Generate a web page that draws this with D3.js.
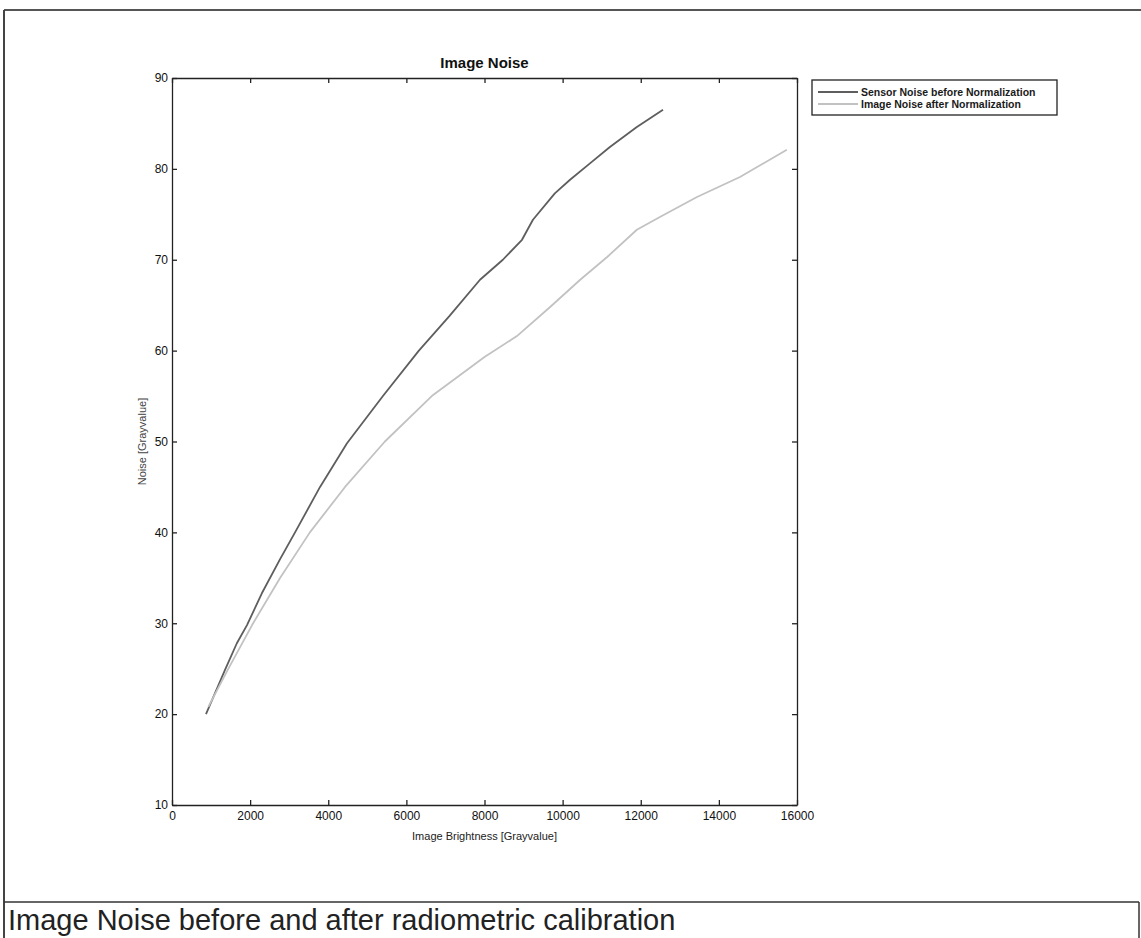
<!DOCTYPE html>
<html>
<head>
<meta charset="utf-8">
<script src="https://cdn.jsdelivr.net/npm/d3@7/dist/d3.min.js"></script>
<style>
  html, body { margin: 0; padding: 0; background: #fff; }
  svg { display: block; }
</style>
</head>
<body>
<svg id="chart" width="1141" height="938"></svg>
<script>
// ---- data ----
const beforeBrightness = [870, 1360, 1660, 1920, 2300, 2760, 3150, 3790, 4480, 5400, 6320, 7100, 7885, 8470, 8960, 9240, 9800, 10190, 10700, 11210, 11900, 12570];
const beforeNoise      = [20.0, 24.9, 27.8, 29.8, 33.3, 37.0, 40.0, 45.0, 49.8, 55.0, 60.0, 63.8, 67.8, 70.0, 72.2, 74.4, 77.3, 78.8, 80.6, 82.4, 84.6, 86.5];
const afterBrightness  = [930, 1430, 2050, 2770, 3530, 4430, 5450, 6650, 8000, 8830, 9680, 10450, 11140, 11900, 12490, 13440, 14540, 15740];
const afterNoise       = [20.8, 24.9, 29.8, 35.0, 40.0, 45.0, 50.0, 55.0, 59.3, 61.6, 64.8, 67.8, 70.3, 73.3, 74.7, 76.9, 79.1, 82.1];
const xTicks = [0, 2000, 4000, 6000, 8000, 10000, 12000, 14000, 16000];
const yTicks = [10, 20, 30, 40, 50, 60, 70, 80, 90];
const seriesNames = ["Sensor Noise before Normalization", "Image Noise after Normalization"];
const chartTitle = "Image Noise";
const xLabel = "Image Brightness [Grayvalue]";
const yLabel = "Noise [Grayvalue]";
const caption = "Image Noise before and after radiometric calibration";

// ---- layout ----
const svg = d3.select("#chart");
const L = 172, R = 797, T = 78, B = 805;
const x = d3.scaleLinear().domain([0, 16000]).range([L, R]);
const y = d3.scaleLinear().domain([10, 90]).range([B, T]);
const colors = ["#5e5e5e", "#c2c2c2"];
const tickFont = "'Liberation Sans', Arial, sans-serif";

// outer frame
svg.append("line").attr("x1", 4).attr("x2", 1141).attr("y1", 10).attr("y2", 10).attr("stroke", "#555").attr("stroke-width", 2);
svg.append("line").attr("x1", 4).attr("x2", 4).attr("y1", 10).attr("y2", 938).attr("stroke", "#444").attr("stroke-width", 2);
svg.append("line").attr("x1", 4).attr("x2", 1139).attr("y1", 902).attr("y2", 902).attr("stroke", "#333").attr("stroke-width", 1.5);
svg.append("line").attr("x1", 1139).attr("x2", 1139).attr("y1", 902).attr("y2", 938).attr("stroke", "#333").attr("stroke-width", 1.5);

// axes
function styleAxis(g) {
  g.selectAll("path").attr("stroke", "#222").attr("stroke-width", 1.3);
  g.selectAll("line").attr("stroke", "#222").attr("stroke-width", 1.3);
  g.selectAll("text").attr("fill", "#111").style("font-family", tickFont).style("font-size", "12px");
}
const gx = svg.append("g").attr("transform", `translate(0,${B})`)
  .call(d3.axisBottom(x).tickValues(xTicks).tickFormat(d3.format("d")).tickSizeInner(-5).tickSizeOuter(0).tickPadding(6));
styleAxis(gx);
const gy = svg.append("g").attr("transform", `translate(${L},0)`)
  .call(d3.axisLeft(y).tickValues(yTicks).tickFormat(d3.format("d")).tickSizeInner(-5).tickSizeOuter(0).tickPadding(4));
styleAxis(gy);
const gt = svg.append("g").attr("transform", `translate(0,${T})`)
  .call(d3.axisTop(x).tickValues(xTicks).tickFormat("").tickSizeInner(-5).tickSizeOuter(0));
styleAxis(gt);
const gr = svg.append("g").attr("transform", `translate(${R},0)`)
  .call(d3.axisRight(y).tickValues(yTicks).tickFormat("").tickSizeInner(-5).tickSizeOuter(0));
styleAxis(gr);

// lines
const series = [
  beforeBrightness.map((b, i) => [b, beforeNoise[i]]),
  afterBrightness.map((b, i) => [b, afterNoise[i]])
];
const line = d3.line().x(d => x(d[0])).y(d => y(d[1]));
series.forEach((s, i) => {
  svg.append("path").datum(s).attr("d", line).attr("fill", "none")
    .attr("stroke", colors[i]).attr("stroke-width", 1.8).attr("stroke-linejoin", "round");
});

// title and labels
svg.append("text").attr("x", (L + R) / 2).attr("y", 68).attr("text-anchor", "middle")
  .style("font-family", tickFont).style("font-weight", "bold").style("font-size", "15px").attr("fill", "#111").text(chartTitle);
svg.append("text").attr("x", (L + R) / 2).attr("y", 840).attr("text-anchor", "middle")
  .style("font-family", tickFont).style("font-size", "11px").attr("fill", "#222").text(xLabel);
svg.append("text").attr("transform", `translate(146,${(T + B) / 2}) rotate(-90)`).attr("text-anchor", "middle")
  .style("font-family", tickFont).style("font-size", "11px").attr("fill", "#444").text(yLabel);

// legend
const lg = svg.append("g");
lg.append("rect").attr("x", 812).attr("y", 80).attr("width", 245).attr("height", 35)
  .attr("fill", "#fff").attr("stroke", "#222").attr("stroke-width", 1.3);
seriesNames.forEach((name, i) => {
  const yy = 92 + i * 12;
  lg.append("line").attr("x1", 818).attr("x2", 858).attr("y1", yy).attr("y2", yy)
    .attr("stroke", colors[i]).attr("stroke-width", 1.8);
  lg.append("text").attr("x", 861).attr("y", yy + 4)
    .style("font-family", tickFont)
    .style("font-weight", "bold").style("font-size", "10.5px").attr("fill", "#1a1a1a").text(name);
});

// caption
svg.append("text").attr("x", 8).attr("y", 930)
  .style("font-family", tickFont).style("font-size", "29px").attr("fill", "#222").text(caption);
</script>
</body>
</html>
